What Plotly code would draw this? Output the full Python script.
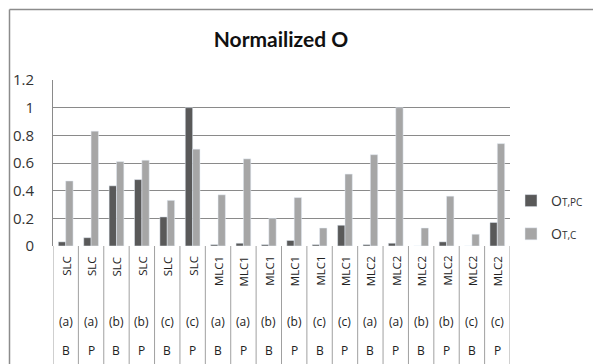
import plotly.graph_objects as go

# ---- data ----
memory = ["SLC"] * 6 + ["MLC1"] * 6 + ["MLC2"] * 6
case = ["(a)", "(a)", "(b)", "(b)", "(c)", "(c)"] * 3
mode = ["B", "P"] * 9
o_t_pc = [0.03, 0.06, 0.435, 0.48, 0.21, 1.0,
          0.01, 0.02, 0.01, 0.04, 0.01, 0.15,
          0.01, 0.02, 0.0, 0.03, 0.0, 0.17]
o_t_c = [0.47, 0.83, 0.61, 0.62, 0.33, 0.70,
         0.37, 0.63, 0.20, 0.35, 0.13, 0.52,
         0.66, 1.0, 0.13, 0.36, 0.085, 0.74]
y_ticks = [0, 0.2, 0.4, 0.6, 0.8, 1, 1.2]
y_tick_text = ["0", "0.2", "0.4", "0.6", "0.8", "1", "1.2"]

# page body has an 8px default margin; work in screen pixels and shift
OFF = 8
W, H = 601 - OFF, 364 - OFF
L, T = 53 - OFF, 80 - OFF
PW, PH = 457, 166
R = W - L - PW
B = H - T - PH

def py(pix):  # screen pixel y -> paper y
    return (T + PH - (pix - OFF)) / PH

def px(pix):  # screen pixel x -> paper x
    return (pix - OFF - L) / PW

FONT = "Open Sans"
idx = list(range(len(memory)))

fig = go.Figure()
fig.add_trace(go.Bar(x=idx, y=o_t_pc, marker_color="#595959", legendgroup="a",
                     name='O<span style="font-size:10px">T,PC</span>'))
fig.add_trace(go.Bar(x=idx, y=o_t_c, marker_color="#a6a6a6", legendgroup="b",
                     name='O<span style="font-size:10px">T,C</span>'))

ann = []
for i in idx:
    ann.append(dict(x=i, y=py(254), xref="x", yref="paper", text=memory[i],
                    textangle=-90, showarrow=False, yanchor="top", xanchor="center",
                    font=dict(family=FONT, size=11.5, color="#222")))
    ann.append(dict(x=i, y=py(321), xref="x", yref="paper", text=case[i],
                    showarrow=False, yanchor="middle", xanchor="center",
                    font=dict(family=FONT, size=12, color="#222")))
    ann.append(dict(x=i, y=py(350), xref="x", yref="paper", text=mode[i],
                    showarrow=False, yanchor="middle", xanchor="center",
                    font=dict(family=FONT, size=12, color="#222")))

shapes = []
for k in range(len(memory) + 1):
    shapes.append(dict(type="line", xref="x", yref="paper", x0=k - 0.5, x1=k - 0.5,
                       y0=py(370), y1=0, line=dict(color="#a0a0a0", width=1)))
# outer chart border (top and left)
shapes.append(dict(type="line", xref="paper", yref="paper", x0=px(9.5), x1=px(620),
                   y0=py(9.5), y1=py(9.5), line=dict(color="#8c8c8c", width=1.5)))
shapes.append(dict(type="line", xref="paper", yref="paper", x0=px(9.5), x1=px(9.5),
                   y0=py(9.5), y1=py(380), line=dict(color="#8c8c8c", width=1.5)))

fig.update_layout(
    width=W, height=H,
    margin=dict(l=L, r=R, t=T, b=B, pad=0, autoexpand=False),
    paper_bgcolor="white", plot_bgcolor="white",
    barmode="group", bargap=0.42, bargroupgap=0,
    title=dict(text="<b>Normailized O</b>", x=(281 - OFF) / W, xanchor="center",
               y=1 - (40 - OFF) / H, yanchor="middle", yref="container",
               font=dict(family="Lato", size=21, color="#111")),
    xaxis=dict(range=[-0.5, len(memory) - 0.5], showticklabels=False, showgrid=False,
               zeroline=False, showline=False, fixedrange=True, automargin=False),
    yaxis=dict(range=[0, 1.2], tickvals=y_ticks, ticktext=y_tick_text, automargin=False,
               showgrid=True, gridcolor="#8a8a8a", gridwidth=1, zeroline=False,
               showline=True, linecolor="#8a8a8a", ticks="", ticklabelstandoff=15,
               tickfont=dict(family=FONT, size=15, color="#333")),
    legend=dict(x=px(511), xanchor="left", y=py(185), yanchor="top",
                tracegroupgap=12, itemwidth=30,
                font=dict(family=FONT, size=14, color="#333"), bgcolor="rgba(0,0,0,0)"),
    annotations=ann, shapes=shapes,
)

fig.write_html("out.html")
